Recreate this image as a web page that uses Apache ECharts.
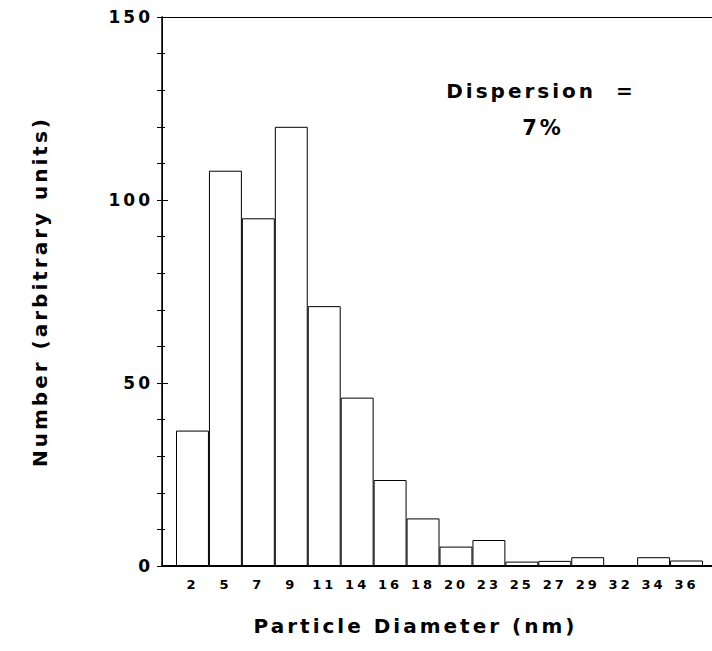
<!DOCTYPE html>
<html>
<head>
<meta charset="utf-8">
<script src="https://cdn.jsdelivr.net/npm/echarts@6/dist/echarts.min.js"></script>
<style>
  html, body { margin: 0; padding: 0; background: #fff; }
  #chart { width: 712px; height: 651px; }
  #chart text { letter-spacing: 3px; white-space: pre; }
</style>
</head>
<body>
<div id="chart"></div>
<script>
// Particle diameter categories (nm)
const categories = ['2', '5', '7', '9', '11', '14', '16', '18', '20', '23', '25', '27', '29', '32', '34', '36'];
// Number (arbitrary units)
const counts = [37, 108, 95, 120, 71, 46, 23.5, 13, 5.3, 7.1, 1.2, 1.4, 2.4, 0, 2.4, 1.5];
const yTickLabels = ['0', '50', '100', '150'];

const FONT = 'DejaVu Sans';
const chart = echarts.init(document.getElementById('chart'), null, { renderer: 'svg' });

const option = {
  backgroundColor: '#ffffff',
  animation: false,
  grid: [
    { left: 162, right: -2, top: 17, bottom: 85 },
    { left: 176, right: 9, top: 17, bottom: 85 }
  ],
  xAxis: [
    {
      gridIndex: 0, type: 'value', min: 0, max: 1, position: 'bottom',
      axisLine: { show: true, onZero: false, lineStyle: { color: '#000', width: 2 } },
      axisTick: { show: false }, axisLabel: { show: false }, splitLine: { show: false },
      name: 'Particle Diameter (nm)', nameLocation: 'middle', nameGap: 50,
      nameTextStyle: { fontFamily: FONT, fontWeight: 'bold', fontSize: 20, color: '#000', padding: [0, 43, 0, 0] }
    },
    {
      gridIndex: 0, type: 'value', min: 0, max: 1, position: 'top',
      axisLine: { show: true, onZero: false, lineStyle: { color: '#000', width: 1 } },
      axisTick: { show: false }, axisLabel: { show: false }, splitLine: { show: false }
    },
    {
      gridIndex: 1, type: 'category', data: categories, boundaryGap: true,
      axisLine: { show: false }, axisTick: { show: false }, splitLine: { show: false },
      axisLabel: { interval: 0, margin: 12, fontFamily: FONT, fontWeight: 'bold', fontSize: 13, color: '#000' }
    }
  ],
  yAxis: [
    {
      gridIndex: 0, type: 'value', min: 0, max: 150, interval: 50, position: 'left',
      axisLine: { show: true, lineStyle: { color: '#000', width: 1.5 } },
      axisTick: { show: true, inside: true, length: 6, lineStyle: { color: '#000' } },
      minorTick: { show: true, splitNumber: 5, length: 3, lineStyle: { color: '#000' } },
      splitLine: { show: false },
      axisLabel: {
        margin: 9, fontFamily: FONT, fontWeight: 'bold', fontSize: 17, color: '#000',
        formatter: function (v) { return yTickLabels.indexOf(String(v)) >= 0 ? String(v) : ''; }
      },
      name: 'Number (arbitrary units)', nameLocation: 'middle', nameGap: 112, nameRotate: 90,
      nameTextStyle: { fontFamily: FONT, fontWeight: 'bold', fontSize: 20, color: '#000' }
    },
    {
      gridIndex: 0, type: 'value', min: 0, max: 150, interval: 10, position: 'right',
      axisLine: { show: true, lineStyle: { color: '#000', width: 1 } },
      axisTick: { show: true, inside: true, length: 5, lineStyle: { color: '#000' } },
      axisLabel: { show: false }, splitLine: { show: false }
    },
    {
      gridIndex: 1, type: 'value', min: 0, max: 150, show: false
    }
  ],
  series: [
    {
      type: 'bar', xAxisIndex: 2, yAxisIndex: 2, data: counts,
      barWidth: '100%', barCategoryGap: '0%',
      itemStyle: { color: '#ffffff', borderColor: '#000', borderWidth: 1 },
      silent: true
    }
  ],
  graphic: [
    {
      type: 'text', x: 541, y: 91,
      style: { text: 'Dispersion  =', textAlign: 'center', textVerticalAlign: 'middle',
               font: 'bold 20px "DejaVu Sans"', fill: '#000' }
    },
    {
      type: 'text', x: 543, y: 128,
      style: { text: '7%', textAlign: 'center', textVerticalAlign: 'middle',
               font: 'bold 21px "DejaVu Sans"', fill: '#000' }
    }
  ]
};
chart.setOption(option);
</script>
</body>
</html>
